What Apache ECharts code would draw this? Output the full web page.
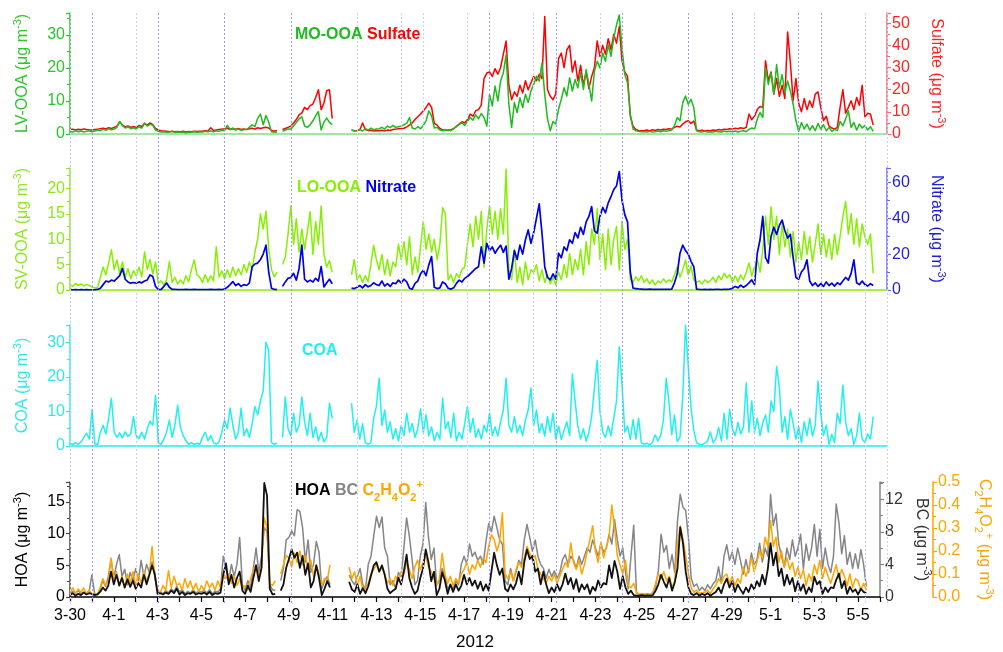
<!DOCTYPE html>
<html>
<head>
<meta charset="utf-8">
<script src="https://cdn.jsdelivr.net/npm/echarts@6/dist/echarts.min.js"></script>
<style>
html,body{margin:0;padding:0;background:#fff;}
#chart{width:1003px;height:652px;}
</style>
</head>
<body>
<div id="chart"></div>
<script>
// Sampling step of every series, in days since 3-30 00:00 (3-hourly values)
const STEP_DAYS = 0.125;

// x-axis tick labels, one per two days starting at 3-30
const dayLabels = ['3-30','4-1','4-3','4-5','4-7','4-9','4-11','4-13','4-15','4-17',
  '4-19','4-21','4-23','4-25','4-27','4-29','5-1','5-3','5-5'];

// day boundaries marked with dotted vertical guides
const guideDaysStrong = [1,4,7,10,19,22,25,28,30,33,34];
const guideDaysLight  = [0,3,13,15,16,18,21,24,31,36,37];

// LV-OOA (MO-OOA), µg m-3
const lvOOA = [
  0.8,0.6,1.0,0.7,0.9,0.6,0.8,1.0,
  0.7,0.9,1.2,1.0,1.4,1.1,1.6,1.3,
  1.5,2.0,3.8,2.5,1.8,2.2,1.6,1.9,
  1.5,2.2,1.8,3.2,2.4,3.0,2.6,1.2,
  0.8,0.6,0.7,0.5,0.6,0.8,0.5,0.6,
  0.5,0.6,0.4,0.6,0.5,0.7,0.5,0.6,
  0.6,0.8,0.7,0.9,0.7,1.0,0.8,1.1,
  1.0,2.6,1.4,1.8,1.2,1.5,1.1,1.3,
  1.4,2.0,2.8,2.2,4.8,6.0,2.8,5.6,
  3.5,0.7,0.5,0.6,null,0.8,1.2,1.5,
  1.5,2.4,3.5,4.6,5.2,2.4,2.0,2.8,
  4.0,5.5,6.8,1.2,3.6,4.8,3.5,2.8,
  null,null,null,null,null,null,1.2,0.9,
  1.0,1.4,0.9,1.6,1.2,1.8,1.3,1.5,
  1.6,2.0,1.5,2.4,1.9,2.6,2.0,2.2,
  2.4,2.8,3.2,5.0,1.8,1.5,2.2,1.6,
  2.6,4.0,7.0,5.5,1.8,2.0,1.2,1.0,
  1.1,1.3,1.0,1.6,2.2,2.8,3.4,2.6,
  3.8,5.0,4.2,5.8,4.6,6.2,5.0,2.4,
  12.0,8.5,14.5,10.0,16.0,18.5,24.0,9.0,
  2.0,9.5,6.5,11.0,8.0,12.0,9.5,13.0,
  15.0,17.5,16.0,21.5,12.0,4.5,1.0,3.8,
  3.0,7.5,10.5,14.0,11.5,17.0,13.0,16.5,
  14.0,18.5,13.5,19.5,15.0,10.0,19.0,22.0,
  20.0,24.5,22.0,27.0,23.5,29.0,33.0,36.0,
  26.0,18.0,15.5,6.0,1.5,1.0,0.8,0.7,
  0.7,0.6,0.8,0.6,0.7,0.9,0.7,1.0,
  0.8,1.0,1.2,2.5,5.0,4.0,9.5,11.5,
  9.0,10.5,8.0,1.0,0.7,0.6,0.8,0.6,
  0.7,0.6,0.8,0.7,0.6,0.9,0.7,0.8,
  0.7,0.9,0.6,0.8,1.0,0.7,1.4,1.8,
  1.5,4.5,6.5,5.0,20.0,15.0,18.5,12.0,
  21.0,14.0,18.0,12.5,16.0,13.0,9.0,4.0,
  0.8,3.5,1.5,3.0,1.2,2.5,1.0,3.2,
  1.5,2.8,1.0,2.0,0.8,1.4,1.0,3.8,
  2.5,4.5,7.0,2.0,3.5,1.2,3.0,1.8,
  2.6,1.2,2.2,0.8
];

// Sulfate, µg m-3
const sulfate = [
  2.0,2.2,1.8,2.1,1.9,2.3,2.0,1.8,
  1.8,2.0,2.2,2.4,2.6,2.3,2.8,2.5,
  3.0,3.5,5.5,4.0,3.2,3.6,3.0,3.3,
  3.0,3.8,3.4,4.8,4.0,5.0,4.2,2.5,
  1.8,1.5,1.3,1.2,1.0,1.2,1.0,1.1,
  1.0,1.2,0.9,1.1,1.0,1.3,1.1,1.2,
  1.2,1.5,1.4,2.8,1.6,1.8,2.0,2.2,
  2.2,2.6,2.0,2.4,2.2,2.5,2.0,2.3,
  2.0,2.4,2.6,2.2,2.8,2.5,2.8,3.0,
  2.7,1.6,1.4,1.5,null,2.0,2.5,3.0,
  3.5,5.0,6.5,8.6,9.5,12.0,11.0,12.8,
  13.5,16.5,20.0,11.0,14.0,19.5,20.0,7.0,
  null,null,null,null,null,null,1.8,1.5,
  1.6,1.8,5.0,2.0,1.5,1.7,1.4,1.6,
  1.5,1.7,1.4,1.8,1.6,2.0,2.2,2.4,
  2.5,2.6,3.2,4.0,5.0,6.5,7.8,9.0,
  10.5,12.0,13.9,12.0,4.8,4.0,2.5,1.8,
  1.8,1.6,1.9,2.4,3.5,4.5,5.5,5.0,
  6.5,9.0,8.0,10.5,11.0,13.0,25.0,27.5,
  28.0,26.0,29.5,27.0,30.0,36.0,42.0,22.0,
  15.5,19.0,17.0,22.0,18.5,24.0,20.0,23.0,
  26.0,24.0,27.0,25.0,53.0,20.0,17.0,15.5,
  18.0,34.0,36.5,30.0,38.0,40.0,28.0,33.0,
  24.0,31.0,22.0,28.0,20.5,26.0,30.0,42.0,
  35.0,40.0,36.0,43.0,38.0,45.0,41.0,48.5,
  33.0,28.0,26.0,8.0,3.5,2.0,1.6,1.5,
  1.5,1.8,1.4,1.9,1.6,2.0,1.8,2.2,
  2.0,2.4,2.2,3.0,3.5,3.2,4.5,5.5,
  6.0,4.8,5.8,1.8,1.5,1.7,1.4,1.6,
  1.5,1.8,1.6,2.0,1.8,2.2,2.0,2.4,
  2.2,2.6,2.4,2.8,2.5,3.0,9.0,6.5,
  8.0,11.0,12.4,12.0,33.0,24.0,28.0,18.0,
  25.0,17.0,22.0,16.0,46.0,32.0,15.0,25.0,
  14.0,10.0,16.0,11.0,15.0,12.0,18.0,19.0,
  12.0,6.0,8.0,3.5,2.7,2.2,3.0,12.0,
  20.0,9.4,12.0,15.0,11.0,16.5,13.0,22.0,
  7.8,9.4,9.0,4.0
];

// SV-OOA (LO-OOA), µg m-3
const svOOA = [
  1.0,0.7,1.3,0.9,1.2,0.8,1.1,0.9,
  0.6,0.4,0.5,2.5,4.5,3.0,5.3,7.9,
  4.0,5.9,3.3,5.5,2.5,4.2,2.2,3.8,
  2.8,4.5,2.6,7.5,4.0,6.0,3.2,5.5,
  1.3,1.8,1.0,2.0,5.6,1.5,2.5,1.2,
  2.0,1.2,2.8,1.6,4.0,5.9,3.0,2.5,
  1.5,3.0,1.6,2.8,1.8,8.5,2.5,3.8,
  2.2,4.0,2.5,4.5,2.8,4.2,3.0,5.0,
  3.5,5.5,4.0,7.5,10.0,15.0,12.0,15.5,
  8.0,4.0,2.6,3.5,null,5.0,6.5,11.0,
  16.5,9.0,14.0,7.5,12.0,8.0,11.5,15.4,
  7.0,13.5,9.0,16.5,7.0,4.5,5.8,3.5,
  null,null,null,null,null,null,3.0,6.0,
  2.0,3.0,1.5,2.8,1.6,5.0,8.8,6.0,
  4.0,7.0,3.0,6.0,2.8,5.5,4.6,9.0,
  6.0,9.5,5.0,10.5,3.0,6.5,3.5,8.5,
  13.5,8.0,11.0,7.5,10.0,6.0,9.0,16.2,
  15.0,2.0,3.0,1.5,3.2,2.5,4.0,4.5,
  9.0,13.0,8.5,14.5,10.0,15.5,4.5,12.0,
  16.5,11.0,15.5,10.0,16.0,11.0,23.8,4.0,
  2.0,8.0,1.5,4.5,1.0,5.5,2.0,4.0,
  3.5,5.0,1.8,4.0,1.5,3.0,1.2,2.5,
  1.0,3.5,2.0,5.0,2.5,7.2,3.0,6.0,
  4.0,8.0,3.0,9.5,5.0,12.0,9.0,16.0,
  6.0,11.0,4.0,12.0,5.0,10.0,12.5,4.0,
  13.5,8.0,10.0,2.0,1.5,2.6,1.8,2.8,
  1.5,2.2,1.2,2.0,1.0,1.8,1.4,2.2,
  1.5,2.0,1.6,3.0,4.5,2.5,4.0,5.9,
  3.0,4.8,2.0,1.5,1.8,1.2,2.0,1.5,
  1.8,2.5,1.5,2.8,2.0,3.3,2.4,3.0,
  1.5,2.8,1.6,3.0,2.0,3.5,5.3,2.8,
  4.5,6.0,3.5,8.0,14.5,9.0,16.4,10.0,
  14.5,7.0,13.0,8.5,12.0,6.5,11.5,5.5,
  9.5,6.0,11.5,7.0,10.5,5.5,9.0,13.0,
  7.0,11.0,6.5,10.0,6.0,11.0,7.0,10.5,
  14.5,17.4,11.0,15.0,9.0,14.0,8.5,13.0,
  10.5,9.0,11.0,3.3
];

// Nitrate, µg m-3
const nitrate = [
  0.2,0.1,0.2,0.1,0.2,0.1,0.2,0.1,
  0.1,0.1,0.3,1.0,3.0,5.0,4.5,5.5,
  5.0,6.5,8.0,12.0,6.0,4.5,3.8,4.2,
  3.8,4.5,4.0,5.0,5.6,8.4,7.5,2.0,
  0.3,0.2,2.0,3.9,1.5,0.4,0.3,0.2,
  0.2,0.2,0.3,0.2,0.2,0.3,0.2,0.2,
  0.2,0.2,0.2,0.3,0.2,0.2,0.3,0.2,
  0.5,1.5,3.0,4.7,2.5,3.5,2.0,3.0,
  2.5,4.0,13.0,14.5,15.0,17.0,20.0,25.0,
  10.0,1.0,0.3,0.2,null,2.0,4.5,6.5,
  7.0,9.3,5.5,12.0,25.0,6.0,4.5,5.5,
  4.5,6.5,5.0,13.0,1.7,4.0,6.0,3.5,
  null,null,null,null,null,null,1.0,0.8,
  1.5,2.5,1.2,3.0,1.8,2.5,4.0,3.0,
  2.5,5.0,2.2,3.5,2.0,4.0,3.5,5.5,
  4.0,6.0,4.5,1.0,0.5,3.7,5.0,9.0,
  11.0,8.0,14.0,18.6,1.5,0.8,1.2,4.5,
  3.5,1.0,0.5,1.2,3.7,5.5,4.5,6.5,
  7.5,9.0,10.5,12.0,13.0,24.0,15.0,26.0,
  22.0,24.0,20.5,23.0,25.0,21.0,24.5,6.0,
  12.0,22.0,17.0,25.0,20.0,28.0,33.5,26.0,
  32.0,40.0,48.0,31.7,13.0,7.0,5.6,9.0,
  6.0,20.5,18.0,24.0,22.0,28.0,26.0,32.0,
  29.0,35.0,31.0,38.0,41.0,46.5,33.0,31.7,
  41.0,46.0,43.0,48.6,52.0,56.0,58.0,66.0,
  50.0,42.0,38.0,10.0,1.0,0.8,0.6,0.5,
  0.4,0.3,0.5,0.3,0.4,0.3,0.4,0.3,
  0.3,0.4,0.5,4.0,9.0,20.5,25.0,22.0,
  20.0,16.0,13.0,0.5,0.3,0.2,0.3,0.2,
  0.3,0.2,0.4,0.3,0.2,0.3,0.4,0.5,
  1.0,2.0,1.2,2.7,1.5,2.5,4.0,5.6,
  3.0,20.5,28.0,41.0,18.0,15.0,30.0,35.0,
  31.0,36.0,39.0,33.0,29.0,31.0,18.0,7.0,
  6.0,10.0,12.0,16.8,5.0,2.5,4.0,2.0,
  3.5,2.0,4.5,2.5,3.8,2.2,4.0,3.0,
  5.0,7.0,5.5,9.3,16.8,4.0,3.0,5.0,
  3.0,2.2,3.5,2.5
];

// COA, µg m-3
const coa = [
  0.8,0.4,1.0,0.5,1.2,2.5,3.7,2.0,
  10.4,0.6,0.4,4.0,6.0,3.5,8.0,13.8,
  4.0,2.5,3.8,2.3,4.1,2.8,3.5,8.5,
  3.0,2.2,4.0,2.0,5.0,7.2,6.0,14.7,
  1.0,0.5,2.0,4.0,7.5,2.5,6.0,11.8,
  5.5,3.0,1.5,0.5,1.0,0.4,0.8,0.5,
  2.5,4.0,1.5,3.0,1.0,0.5,1.2,4.0,
  7.5,5.0,11.0,6.0,2.0,4.0,11.0,3.0,
  5.0,2.5,6.5,11.4,9.0,13.0,16.0,30.0,
  27.7,1.0,0.5,0.8,null,2.5,14.2,5.0,
  3.0,9.5,4.0,6.0,14.2,7.0,3.0,9.5,
  2.5,5.5,1.5,4.0,1.2,2.5,12.4,8.0,
  null,null,null,null,null,null,12.4,4.0,
  7.5,2.0,6.5,1.0,0.5,1.0,8.0,11.4,
  19.6,6.0,10.4,4.0,7.0,2.0,5.0,1.5,
  6.0,3.0,9.5,4.0,6.5,2.5,5.0,10.8,
  4.0,9.0,3.0,5.5,1.5,4.0,2.0,13.8,
  5.0,7.0,2.5,9.5,1.5,4.0,2.0,6.5,
  11.4,4.0,8.0,2.5,5.0,2.0,6.0,4.0,
  9.5,3.0,5.5,2.9,7.0,10.4,19.6,6.0,
  4.0,8.5,3.8,6.0,3.0,7.5,10.4,16.8,
  6.0,10.4,3.8,6.5,2.9,8.5,4.0,9.5,
  2.0,5.8,1.9,4.5,7.0,3.0,20.8,13.0,
  5.8,2.0,5.0,1.4,4.0,8.5,16.8,24.8,
  10.0,4.0,2.5,5.8,3.0,8.0,13.0,28.7,
  17.6,4.0,5.8,1.9,7.6,2.0,8.0,1.0,
  0.5,0.8,0.3,1.0,3.2,1.5,3.0,7.5,
  19.6,13.0,3.3,9.0,1.3,2.5,14.2,35.0,
  23.0,11.0,4.5,1.0,0.5,0.3,0.8,1.5,
  4.1,1.0,2.0,5.4,1.5,9.5,2.0,10.6,
  5.0,3.0,6.8,3.5,5.5,18.2,4.0,13.0,
  4.0,8.0,3.0,6.8,9.0,4.0,13.0,10.0,
  23.0,17.0,4.0,8.5,2.0,10.6,6.5,2.0,
  5.5,1.0,7.0,3.0,8.0,2.9,6.0,18.8,
  9.5,3.0,6.0,0.5,3.4,1.0,9.5,6.5,
  17.6,7.0,3.0,5.0,0.5,3.0,9.5,2.0,
  1.0,3.5,2.0,8.5
];

// HOA, µg m-3
const hoa = [
  0.3,0.6,0.2,0.5,0.3,0.7,0.4,0.6,
  0.5,0.3,0.4,0.8,1.5,1.0,1.8,4.0,
  2.0,3.5,1.8,3.0,1.5,2.8,1.6,2.6,
  1.3,2.2,1.5,3.5,2.0,3.5,5.0,3.5,
  0.5,0.6,0.4,0.7,0.5,1.0,0.6,1.3,
  0.4,0.8,0.3,0.6,0.5,0.8,0.4,0.6,
  0.5,0.7,0.4,0.8,0.3,0.6,0.5,0.7,
  3.5,5.3,2.0,3.5,1.5,3.0,4.0,1.0,
  0.5,1.8,0.8,3.0,5.0,2.5,4.6,18.0,
  16.0,1.3,0.4,0.5,null,1.0,2.0,4.6,
  6.0,7.5,6.2,7.0,4.6,6.5,3.5,5.3,
  1.5,2.5,5.0,3.0,0.3,1.3,2.5,1.5,
  null,null,null,null,null,null,2.4,1.2,
  0.8,2.0,0.5,1.4,0.6,1.7,3.4,5.0,
  5.5,4.0,5.0,3.5,1.3,0.6,1.0,1.3,
  3.0,2.0,4.0,6.7,3.0,1.5,0.5,1.0,
  3.0,4.5,7.5,5.5,2.5,4.0,0.3,1.3,
  3.9,2.6,0.5,2.0,0.8,2.0,1.0,1.8,
  3.5,2.0,3.0,1.8,2.6,1.3,2.4,1.0,
  2.0,1.0,4.0,7.0,5.0,3.5,4.5,1.3,
  0.9,2.0,1.2,2.2,4.0,2.0,5.5,7.5,
  6.0,6.5,4.0,4.5,2.0,4.0,2.0,0.6,
  1.5,0.8,2.0,1.0,2.0,3.7,2.0,3.0,
  1.3,2.8,0.8,2.0,1.2,2.0,0.5,1.6,
  1.0,2.6,1.5,2.2,2.0,5.0,3.0,5.7,
  4.0,1.3,3.3,1.5,0.5,1.0,0.3,0.2,
  0.2,0.3,0.2,0.25,0.2,0.3,1.0,2.0,
  3.5,2.4,1.5,3.0,1.0,2.3,4.5,11.0,
  8.5,4.0,1.5,0.5,0.3,0.6,0.2,0.5,
  0.3,0.6,0.2,0.5,0.8,1.5,0.6,2.0,
  2.9,1.5,2.5,0.8,2.0,1.2,0.5,1.5,
  0.8,2.0,1.2,2.5,1.7,3.5,2.0,4.4,
  8.5,5.0,7.0,3.3,4.5,1.8,3.5,2.0,
  3.0,0.9,2.5,1.0,2.0,0.5,1.5,0.8,
  3.2,2.0,2.5,0.5,1.5,0.8,1.5,1.4,
  2.7,3.7,1.4,2.5,0.5,1.6,0.8,1.2,
  0.4,1.3,0.8,0.6
];

// BC, µg m-3
const bc = [
  0.4,0.7,0.5,0.75,0.4,0.6,0.5,0.7,
  2.7,0.4,0.3,1.0,2.0,1.3,2.5,4.6,
  2.3,4.0,5.2,2.5,3.4,1.5,3.0,2.0,
  3.5,2.0,4.5,2.5,4.0,3.0,4.3,3.0,
  0.5,0.6,0.4,0.8,0.5,1.0,0.7,1.3,
  0.6,0.9,0.4,0.7,0.5,0.9,0.5,0.7,
  0.6,0.8,0.5,0.9,0.4,0.7,0.6,1.0,
  5.0,3.5,2.0,4.0,2.5,4.0,7.3,1.5,
  0.8,2.0,1.2,3.5,6.0,3.0,5.0,8.5,
  8.0,1.5,0.9,0.8,null,2.0,3.5,7.0,
  7.3,8.1,7.5,10.7,10.5,8.5,4.3,7.0,
  3.0,4.0,6.8,5.5,1.0,2.0,2.5,1.5,
  null,null,null,null,null,null,2.7,2.0,
  1.5,2.5,3.5,1.5,1.0,4.0,5.0,7.5,
  9.9,8.5,9.8,6.0,5.0,1.5,2.0,1.0,
  3.0,2.5,6.0,9.7,7.5,4.6,1.5,2.0,
  5.0,6.5,11.6,7.3,4.6,6.0,1.5,2.0,
  3.5,2.5,1.0,1.5,1.0,2.0,1.5,4.0,
  5.0,4.0,6.5,5.0,5.5,4.5,5.0,4.0,
  6.8,9.0,8.0,9.9,8.5,7.0,6.5,2.0,
  1.5,3.5,2.0,3.0,4.5,4.0,7.0,8.9,
  7.3,5.6,7.0,5.0,4.0,3.5,2.3,3.4,
  2.5,3.2,2.3,3.0,4.6,5.2,4.0,5.0,
  4.5,3.5,5.0,4.0,5.0,6.0,5.5,7.0,
  6.0,5.0,6.5,5.5,6.0,7.7,6.5,9.5,
  7.0,5.0,6.0,3.0,1.0,5.0,8.8,0.5,
  0.3,0.4,0.3,0.4,0.3,0.5,1.3,3.2,
  7.7,5.5,6.3,3.5,5.2,3.0,9.3,12.6,
  11.0,10.6,7.3,2.3,1.3,1.6,0.8,1.2,
  0.8,1.5,1.0,1.6,2.0,3.7,1.7,5.0,
  6.4,4.5,5.5,4.0,6.0,4.5,2.8,4.6,
  3.0,5.4,4.0,4.5,6.6,4.3,6.0,5.0,
  12.6,8.8,10.2,6.5,5.0,3.7,6.0,4.6,
  7.0,5.0,6.0,7.7,3.5,6.5,4.5,6.0,
  8.9,5.0,8.3,3.5,6.0,4.0,3.0,5.0,
  11.4,9.1,5.3,7.5,4.0,5.5,3.5,5.3,
  3.5,5.8,4.0,1.3
];

// C2H4O2+ fragment, µg m-3
const c2h4o2 = [
  0.02,0.04,0.015,0.035,0.02,0.04,0.013,0.03,
  0.01,0.012,0.01,0.04,0.08,0.05,0.07,0.17,
  0.08,0.11,0.05,0.09,0.04,0.10,0.06,0.11,
  0.05,0.10,0.06,0.11,0.07,0.10,0.22,0.08,
  0.03,0.02,0.05,0.03,0.115,0.04,0.09,0.05,
  0.06,0.03,0.08,0.04,0.07,0.03,0.06,0.02,
  0.05,0.03,0.07,0.04,0.06,0.03,0.07,0.04,
  0.11,0.08,0.10,0.06,0.09,0.05,0.08,0.04,
  0.05,0.03,0.08,0.12,0.14,0.09,0.13,0.345,
  0.30,0.06,0.05,0.07,null,0.10,0.14,0.18,
  0.17,0.13,0.19,0.15,0.20,0.14,0.18,0.12,
  0.16,0.09,0.14,0.10,0.05,0.08,0.07,0.14,
  null,null,null,null,null,null,0.13,0.08,
  0.11,0.05,0.09,0.03,0.04,0.06,0.10,0.12,
  0.14,0.11,0.13,0.10,0.06,0.08,0.05,0.09,
  0.07,0.11,0.10,0.15,0.12,0.08,0.13,0.16,
  0.12,0.15,0.18,0.13,0.11,0.08,0.05,0.08,
  0.19,0.10,0.06,0.09,0.05,0.08,0.06,0.10,
  0.12,0.15,0.10,0.14,0.12,0.16,0.13,0.17,
  0.15,0.22,0.27,0.25,0.20,0.24,0.366,0.10,
  0.08,0.11,0.07,0.12,0.15,0.13,0.17,0.22,
  0.19,0.16,0.18,0.12,0.10,0.08,0.06,0.09,
  0.07,0.10,0.06,0.09,0.12,0.15,0.13,0.235,
  0.15,0.12,0.16,0.10,0.14,0.20,0.25,0.31,
  0.20,0.15,0.24,0.17,0.22,0.26,0.40,0.30,
  0.18,0.14,0.10,0.16,0.05,0.04,0.06,0.02,
  0.01,0.015,0.01,0.012,0.01,0.02,0.06,0.10,
  0.08,0.11,0.07,0.09,0.04,0.07,0.23,0.31,
  0.25,0.18,0.10,0.04,0.02,0.03,0.015,0.02,
  0.02,0.03,0.015,0.035,0.05,0.08,0.06,0.09,
  0.10,0.06,0.09,0.05,0.08,0.06,0.13,0.09,
  0.12,0.17,0.11,0.15,0.20,0.17,0.26,0.22,
  0.333,0.22,0.26,0.15,0.20,0.13,0.17,0.12,
  0.15,0.09,0.13,0.08,0.12,0.05,0.10,0.07,
  0.14,0.10,0.16,0.08,0.13,0.09,0.06,0.10,
  0.14,0.08,0.12,0.09,0.05,0.10,0.04,0.08,
  0.07,0.03,0.06,0.03
];

const FONT = 'Arial, "Liberation Sans", Helvetica, sans-serif';
const X_MAX = 37;

const C = {
  lv: '#1fba1f', lvAxis: '#2ec42e', lvBase: '#86dd86',
  so4: '#ff0000', so4Axis: '#ff6a6a', so4Text: '#ff2424',
  sv: '#86f000', svAxis: '#8ee81c',
  no3: '#0000e6', no3Axis: '#6868ff', no3Text: '#1f1fd8',
  coa: '#1ff0f0', coaAxis: '#30e8e8',
  hoa: '#111111', bc: '#858585', bcText: '#333333',
  c2: '#ffa500'
};

const toXY = arr => arr.map((v, i) => [i * STEP_DAYS, v]);

function unitName(label, color, body) {
  return {
    text: '{t|' + (body || label) + ' (\u03bcg m}{s|-3}{t|)}',
    rich: {
      t: { fontSize: 16, color: color, fontFamily: FONT, lineHeight: 22 },
      s: { fontSize: 11, color: color, fontFamily: FONT, verticalAlign: 'top', lineHeight: 11 },
      b: { fontSize: 11, color: color, fontFamily: FONT, verticalAlign: 'bottom', lineHeight: 11 }
    }
  };
}

function onStep(step, fmt) {
  return v => {
    const k = v / step;
    if (Math.abs(k - Math.round(k)) > 1e-6) return '';
    return fmt ? fmt(v) : String(Math.round(v * 1000) / 1000);
  };
}

function yAxis(o) {
  const nm = unitName(o.label, o.nameColor || o.text, o.body);
  return {
    type: 'value', gridIndex: o.grid, position: o.pos, offset: o.offset || 0,
    min: 0, max: o.max, interval: o.step,
    axisLine: { show: true, onZero: false, lineStyle: { color: o.line, width: 1.5 } },
    axisTick: { show: true, length: 4, lineStyle: { color: o.line, width: 1.2 } },
    minorTick: { show: true, splitNumber: 2, length: 3, lineStyle: { color: o.line, width: 1 } },
    splitLine: { show: false },
    axisLabel: { color: o.text, fontSize: 16, fontFamily: FONT, margin: 5,
      formatter: onStep(o.step, o.fmt) },
    name: nm.text, nameLocation: 'middle', nameGap: o.gap,
    nameRotate: o.pos === 'left' ? 90 : -90,
    nameTextStyle: { rich: nm.rich }
  };
}

function xAxis(grid, baseColor, full) {
  const ax = {
    type: 'value', gridIndex: grid, min: 0, max: X_MAX, interval: 1,
    axisLine: { show: true, onZero: false, lineStyle: { color: baseColor, width: 1.5 } },
    axisTick: { show: false }, axisLabel: { show: false }, splitLine: { show: false }
  };
  if (full) {
    ax.axisTick = { show: true, length: 5, lineStyle: { color: '#000', width: 1.2 } };
    ax.axisLabel = { show: true, color: '#000', fontSize: 16, fontFamily: FONT, margin: 11,
      formatter: v => (Math.round(v) % 2 === 0 ? (dayLabels[Math.round(v) / 2] || '') : '') };
    ax.name = '2012';
    ax.nameLocation = 'middle';
    ax.nameGap = 37;
    ax.nameTextStyle = { color: '#000', fontSize: 17, fontFamily: FONT };
  }
  return ax;
}

function line(data, xi, yi, color, width) {
  return {
    type: 'line', xAxisIndex: xi, yAxisIndex: yi, data: toXY(data),
    showSymbol: false, symbol: 'none', connectNulls: false,
    lineStyle: { color: color, width: width, join: 'round' }, itemStyle: { color: color },
    emphasis: { disabled: true }, z: 3
  };
}

function guides(days, color) {
  return {
    type: 'line', xAxisIndex: 4, yAxisIndex: 8, data: [[0, 0]],
    symbol: 'none', lineStyle: { opacity: 0 }, z: 1, silent: true,
    markLine: {
      silent: true, symbol: ['none', 'none'], label: { show: false },
      lineStyle: { color: color, width: 1, type: [2, 2] },
      emphasis: { disabled: true },
      data: days.map(d => ({ xAxis: d }))
    }
  };
}

const GRID_LEFT = 70, GRID_RIGHT = 116;
const option = {
  animation: false,
  backgroundColor: '#fff',
  textStyle: { fontFamily: FONT },
  grid: [
    { left: GRID_LEFT, right: GRID_RIGHT, top: 13, height: 121 },
    { left: GRID_LEFT, right: GRID_RIGHT, top: 168, height: 122 },
    { left: GRID_LEFT, right: GRID_RIGHT, top: 325, height: 121 },
    { left: GRID_LEFT, right: GRID_RIGHT, top: 482, height: 121 },
    { left: GRID_LEFT, right: GRID_RIGHT, top: 13, height: 590 }
  ],
  title: [
    { left: 290, top: 20, text: '{g|MO-OOA} {r|Sulfate}',
      textStyle: { fontSize: 16, fontWeight: 'bold', rich: {
        g: { color: C.lv, fontSize: 16, fontWeight: 'bold', fontFamily: FONT, lineHeight: 20 },
        r: { color: C.so4, fontSize: 16, fontWeight: 'bold', fontFamily: FONT, lineHeight: 20 } } } },
    { left: 292, top: 173, text: '{g|LO-OOA} {b|Nitrate}',
      textStyle: { fontSize: 16, fontWeight: 'bold', rich: {
        g: { color: C.sv, fontSize: 16, fontWeight: 'bold', fontFamily: FONT, lineHeight: 20 },
        b: { color: C.no3, fontSize: 16, fontWeight: 'bold', fontFamily: FONT, lineHeight: 20 } } } },
    { left: 297, top: 336, text: '{c|COA}',
      textStyle: { rich: {
        c: { color: C.coa, fontSize: 16, fontWeight: 'bold', fontFamily: FONT, lineHeight: 20 } } } },
    { left: 290, top: 474, text: '{k|HOA} {g|BC} {o|C}{ob|2}{o|H}{ob|4}{o|O}{ob|2}{os|+}',
      textStyle: { fontSize: 16, fontWeight: 'bold', rich: {
        k: { color: '#000', fontSize: 16, fontWeight: 'bold', fontFamily: FONT, lineHeight: 24 },
        g: { color: C.bc, fontSize: 16, fontWeight: 'bold', fontFamily: FONT, lineHeight: 24 },
        o: { color: C.c2, fontSize: 16, fontWeight: 'bold', fontFamily: FONT, lineHeight: 24 },
        ob: { color: C.c2, fontSize: 11, fontWeight: 'bold', fontFamily: FONT, lineHeight: 11, verticalAlign: 'bottom' },
        os: { color: C.c2, fontSize: 11, fontWeight: 'bold', fontFamily: FONT, lineHeight: 11, verticalAlign: 'top' } } } }
  ],
  xAxis: [
    xAxis(0, C.lvBase, false),
    xAxis(1, C.sv, false),
    xAxis(2, C.coa, false),
    xAxis(3, '#000', true),
    { type: 'value', gridIndex: 4, min: 0, max: X_MAX, show: false }
  ],
  yAxis: [
    yAxis({ grid: 0, pos: 'left', max: 36.6, step: 10, line: C.lvAxis, text: C.lvAxis, label: 'LV-OOA', gap: 36 }),
    yAxis({ grid: 0, pos: 'right', max: 54.6, step: 10, line: C.so4Axis, text: C.so4Text, label: 'Sulfate', gap: 38 }),
    yAxis({ grid: 1, pos: 'left', max: 24, step: 5, line: C.svAxis, text: C.svAxis, label: 'SV-OOA', gap: 36 }),
    yAxis({ grid: 1, pos: 'right', max: 68, step: 20, line: C.no3Axis, text: C.no3Text, label: 'Nitrate', gap: 38 }),
    yAxis({ grid: 2, pos: 'left', max: 35, step: 10, line: C.coaAxis, text: C.coaAxis, label: 'COA', gap: 36 }),
    yAxis({ grid: 3, pos: 'left', max: 18.15, step: 5, line: '#444', text: '#000', label: 'HOA', gap: 36 }),
    yAxis({ grid: 3, pos: 'right', max: 14.1, step: 4, line: C.bc, text: C.bcText, label: 'BC', gap: 24 }),
    yAxis({ grid: 3, pos: 'right', offset: 53, max: 0.5, step: 0.1, line: C.c2, text: C.c2,
      fmt: v => v.toFixed(1), label: 'C2H4O2+', gap: 40,
      body: 'C}{b|2}{t|H}{b|4}{t|O}{b|2}{s|+}{t|' }),
    { type: 'value', gridIndex: 4, min: 0, max: 1, show: false }
  ],
  series: [
    guides(guideDaysLight, '#cdcdff'),
    guides(guideDaysStrong, '#9a9aff'),
    line(sulfate, 0, 1, C.so4, 1.5),
    line(lvOOA, 0, 0, C.lv, 1.5),
    line(svOOA, 1, 2, C.sv, 1.5),
    line(nitrate, 1, 3, C.no3, 1.7),
    line(coa, 2, 4, C.coa, 1.5),
    line(bc, 3, 6, C.bc, 1.5),
    line(c2h4o2, 3, 7, C.c2, 1.5),
    line(hoa, 3, 5, C.hoa, 1.8)
  ]
};

const chart = echarts.init(document.getElementById('chart'), null, { renderer: 'canvas' });
chart.setOption(option);
</script>
</body>
</html>
